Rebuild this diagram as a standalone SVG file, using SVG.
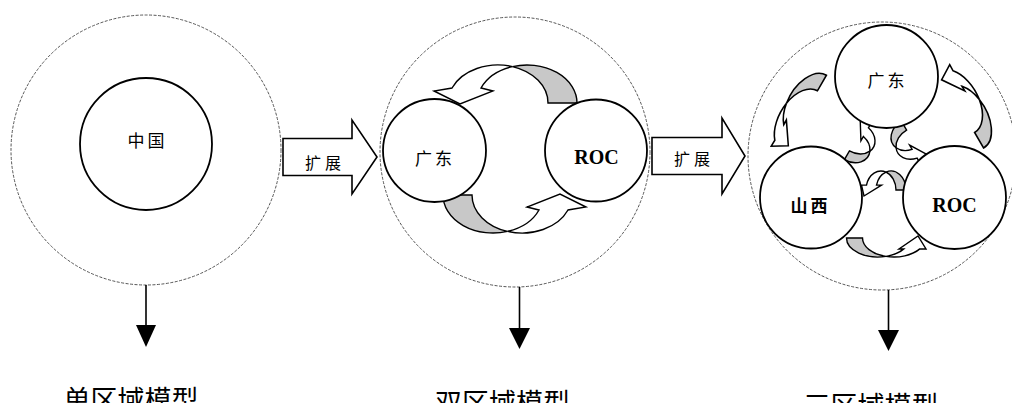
<svg xmlns="http://www.w3.org/2000/svg" width="1012" height="403" viewBox="0 0 1012 403">
<style>
.region{fill:none;stroke:#444;stroke-width:0.9;stroke-dasharray:3 1.5}
.node{fill:#fff;stroke:#000;stroke-width:1.8}
.front{fill:#fff;stroke:#000;stroke-width:1.4;stroke-linejoin:miter}
.back{fill:#c8c8c8;stroke:#000;stroke-width:1.4}
.expand{fill:#fff;stroke:#000;stroke-width:1.6}
.down{stroke:#000;stroke-width:1.6;fill:none}
.head{fill:#000;stroke:none}
.cn{font-family:"Noto Sans CJK SC","Noto Sans",sans-serif;fill:#000;text-anchor:middle}
.nl{font-size:17px;letter-spacing:3px}
.roc{font-family:"Liberation Serif",serif;font-weight:bold;font-size:20px;text-anchor:middle;fill:#000}
.label{font-size:27px}
</style>
<defs>
  <g id="bigCurl">
    <path class="front" d="M512.5,66.6 A50,38 0 0 0 452,88 L434,91 L460,104 L493,91 L481,88 A50,38 0 0 1 512.5,66.6 Z"/>
    <path class="back" d="M512.5,66.6 A50,38 0 0 1 577,103 L548,103 A50,38 0 0 0 512.5,66.6 Z"/>
  </g>
  <g id="outerCurl">
    <path class="back" d="M846.5,238 A31.5,19 0 0 0 886,256.4 A31.5,19 0 0 1 862.5,238 Z"/>
    <path class="front" d="M886,256.4 A31.5,19 0 0 0 919.8,248.9 L926,249 L918,236 L899,249 L903.8,248.9 A31.5,19 0 0 1 886,256.4 Z"/>
  </g>
  <g id="innerCurl">
    <path class="back" d="M886,172.1 A15,19 0 0 1 906,190 L896,190 A15,19 0 0 0 886,172.1 Z"/>
    <path class="front" d="M886,172.1 A15,19 0 0 0 866.5,185.1 L861.5,185.1 L864,196 L881.5,185.1 L876.5,185.1 A15,19 0 0 1 886,172.1 Z"/>
  </g>
</defs>

<!-- region boundaries -->
<g id="regions">
  <circle class="region" cx="146" cy="150" r="135"/>
  <circle class="region" cx="515" cy="152" r="135"/>
  <circle class="region" cx="882" cy="156" r="134"/>
</g>

<!-- connectors -->
<g id="connectors">
  <g id="expand1">
    <path class="expand" d="M283,138.5 H352 V120 L377,157 L352,194 V175.5 H283 Z"/>
    <text class="cn" x="325" y="169" font-size="16" letter-spacing="4">扩展</text>
  </g>
  <g id="expand2">
    <path class="expand" d="M652,137.5 H722 V118 L745,156 L722,194 V174.5 H652 Z"/>
    <text class="cn" x="694" y="165" font-size="16" letter-spacing="4">扩展</text>
  </g>
  <g id="down1">
    <line class="down" x1="146" y1="285" x2="146" y2="327"/>
    <polygon class="head" points="136,325 156,325 146,347"/>
  </g>
  <g id="down2">
    <line class="down" x1="519.5" y1="287" x2="519.5" y2="330"/>
    <polygon class="head" points="509,328 530,328 519.5,349"/>
  </g>
  <g id="down3">
    <line class="down" x1="888.5" y1="290" x2="888.5" y2="332"/>
    <polygon class="head" points="878,330 899,330 888.5,351"/>
  </g>
  <g id="flows2">
    <use href="#bigCurl"/>
    <use href="#bigCurl" transform="rotate(180 510 149)"/>
  </g>
  <g id="flows3">
    <use href="#outerCurl"/>
    <use href="#innerCurl"/>
    <use href="#outerCurl" transform="translate(884 157) scale(1.12) translate(-884 -157) rotate(120 884 157)"/>
    <use href="#innerCurl" transform="rotate(120 884 157)"/>
    <use href="#outerCurl" transform="translate(884 157) scale(1.12) translate(-884 -157) rotate(240 884 157)"/>
    <use href="#innerCurl" transform="rotate(240 884 157)"/>
  </g>
</g>

<!-- nodes -->
<g id="node-zhongguo">
  <circle class="node" cx="146" cy="144" r="66"/>
  <text class="cn nl" x="147.5" y="147" letter-spacing="2">中国</text>
</g>
<g id="node-guangdong2">
  <circle class="node" cx="434.5" cy="150.5" r="51.5"/>
  <text class="cn nl" x="435" y="164.5">广东</text>
</g>
<g id="node-roc2">
  <circle class="node" cx="596" cy="150.5" r="51"/>
  <text class="roc" x="596.5" y="164">ROC</text>
</g>
<g id="node-guangdong3">
  <circle class="node" cx="886.5" cy="76.5" r="51.5"/>
  <text class="cn nl" x="887.5" y="86.5">广东</text>
</g>
<g id="node-shanxi3">
  <circle class="node" cx="811" cy="197.5" r="51"/>
  <text class="cn nl" x="810.5" y="211.5" font-weight="bold">山西</text>
</g>
<g id="node-roc3">
  <circle class="node" cx="954.5" cy="197.5" r="51.5"/>
  <text class="roc" x="954.5" y="212">ROC</text>
</g>

<!-- captions -->
<g id="captions">
  <text class="cn label" x="131" y="410">单区域模型</text>
  <text class="cn label" x="502.5" y="413">双区域模型</text>
  <text class="cn label" x="871" y="416">三区域模型</text>
</g>
</svg>
